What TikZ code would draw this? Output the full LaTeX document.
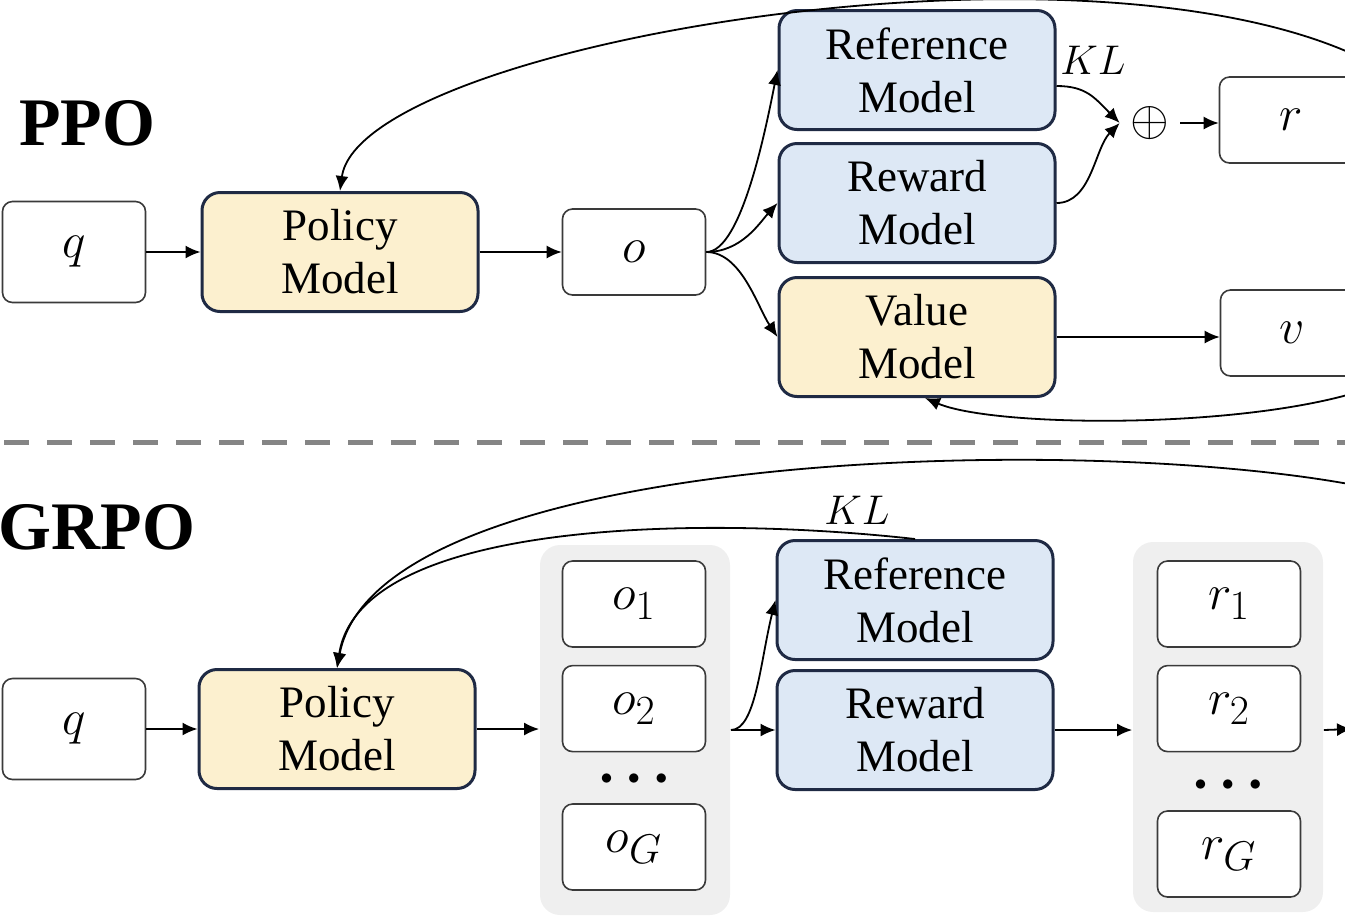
\documentclass[tikz,border=0pt]{standalone}
\usepackage{fontspec}
\setmainfont{Liberation Serif}
\usetikzlibrary{positioning,calc,arrows.meta}
\definecolor{ylw}{HTML}{FCF0CF}
\definecolor{blu}{HTML}{DDE8F5}
\definecolor{navy}{HTML}{1F2A44}
\definecolor{boxline}{HTML}{3A3A3A}
\definecolor{grp}{HTML}{EFEFEF}
\definecolor{sepc}{HTML}{858585}
\begin{document}
\begin{tikzpicture}[x=0.5pt,y=-0.5pt,line width=0.9pt,
	tip/.style={-{Latex[length=7.5pt,width=6.5pt]}},
	model/.style={draw=navy,line width=1.5pt,rounded corners=9pt,minimum width=138pt,minimum height=59.5pt,inner sep=0pt,align=center,font=\fontsize{22.5}{26.5}\selectfont},
	policy/.style={model,fill=ylw},
	frozen/.style={model,fill=blu},
	var/.style={draw=boxline,line width=0.8pt,rounded corners=5pt,fill=white,minimum width=71.5pt,minimum height=43pt,inner sep=0pt,font=\fontsize{29}{30}\selectfont},
	group/.style={fill=grp,rounded corners=10pt,minimum width=95pt,minimum height=185pt,inner sep=0pt},
	title/.style={font=\fontsize{34}{36}\selectfont\bfseries,inner sep=0pt},
	kl/.style={font=\fontsize{21}{21}\selectfont,inner sep=0pt},
	dotrow/.style={font=\fontsize{12}{12}\selectfont,inner sep=0pt}]
	\useasboundingbox (0,0) rectangle (1345,918);
	\clip (0,0) rectangle (1345,918);

	\node[title]                  (PPO)  at (87,123)   {PPO};
	\node[var,minimum height=50.5pt] (QP) at (74,252)  {$q$};
	\node[policy]                 (POLP) at (340,252)  {Policy\\Model};
	\node[var]                    (OP)   at (634,252)  {$o$};
	\node[frozen]                 (REFP) at (917,70)   {Reference\\Model};
	\node[frozen]                 (RWDP) [below=5.5pt of REFP] {Reward\\Model};
	\node[policy]                 (VALP) [below=6pt of RWDP]   {Value\\Model};
	\node[font=\fontsize{28}{28}\selectfont,inner sep=5pt] (SUM) at (1150,123) {$\oplus$};
	\node[var]                    (RP)   at (1291,120) {$r$};
	\node[var]                    (VP)   at (1292,333) {$v$};
	\node[kl]                     (KLP)  at (1093,60)  {$KL$};
	\coordinate (TOPP) at (1400,80);
	\coordinate (BOTP) at (1400,375);

	\draw[tip] (QP) -- (POLP);
	\draw[tip] (POLP) -- (OP);
	\draw[tip] (OP.east) .. controls +(35,0) and +(-12,60) .. (REFP.west);
	\draw[tip] (OP.east) .. controls +(35,0) and +(-18,20) .. (RWDP.west);
	\draw[tip] (OP.east) .. controls +(35,0) and +(-20,-30) .. (VALP.west);
	\draw[tip] ([yshift=-8pt]REFP.east) .. controls +(30,0) and +(-25,-25) .. (SUM.west);
	\draw[tip] (RWDP.east) .. controls +(35,0) and +(-25,25) .. (SUM.west);
	\draw[tip] (SUM.east) -- (SUM.east -| RP.west);
	\draw[tip] (VALP.east) -- (VALP.east -| VP.west);
	\draw[tip] (TOPP) .. controls (1150,-90) and (360,40) .. (POLP.north);
	\draw[tip] (BOTP) .. controls (1300,430) and (1000,430) .. ([xshift=4pt]VALP.south);

	\draw[sepc,line width=2.5pt,dash pattern=on 12.5pt off 9pt] (4,442) -- (1345,442);

	\node[title]                  (GRPO) at (97,527)   {GRPO};
	\node[var,minimum height=50.5pt] (QG) at (74,729)  {$q$};
	\node[policy]                 (POLG) at (337,729)  {Policy\\Model};
	\node[group]                  (OGRP) at (635,730)  {};
	\node[var]                    (O1)   at (634,604)  {$o_1$};
	\node[var]                    (O2)   [below=8.5pt of O1] {$o_2$};
	\node[dotrow]                 (OD)   at (634,779)  {$\bullet\hspace{5pt}\bullet\hspace{5pt}\bullet$};
	\node[var]                    (OG)   at (634,847)  {$o_G$};
	\node[frozen]                 (REFG) at (915,600)  {Reference\\Model};
	\node[frozen]                 (RWDG) [below=4pt of REFG] {Reward\\Model};
	\node[group]                  (RGRP) at (1228,727) {};
	\node[var]                    (R1)   at (1229,604) {$r_1$};
	\node[var]                    (R2)   [below=8.5pt of R1] {$r_2$};
	\node[dotrow]                 (RD)   at (1228,785) {$\bullet\hspace{5pt}\bullet\hspace{5pt}\bullet$};
	\node[var]                    (RG)   at (1229,854) {$r_G$};
	\node[kl]                     (KLG)  at (857,510)  {$KL$};
	\coordinate (TOPG) at (1400,495);
	\coordinate (OUTG) at (1352,729);

	\draw[tip] (QG) -- (POLG);
	\draw[tip] (POLG.east) -- (POLG.east -| OGRP.west);
	\draw[tip] (OGRP.east |- RWDG.west) -- (RWDG.west);
	\draw[tip] (OGRP.east |- RWDG.west) .. controls +(25,0) and +(-15,60) .. (REFG.west);
	\draw[tip] (RWDG.east) -- (RWDG.east -| RGRP.west);
	\draw[tip] (RGRP.east |- RWDG.east) -- (OUTG);
	\draw[tip] (REFG.north) .. controls (700,515) and (360,520) .. (POLG.north);
	\draw[tip] (TOPG) .. controls (1150,430) and (380,440) .. (POLG.north);
\end{tikzpicture}
\end{document}
